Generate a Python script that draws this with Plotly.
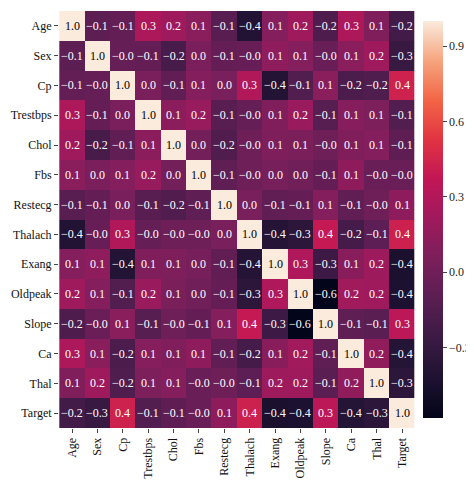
import plotly.graph_objects as go
import numpy as np

labels = ["Age","Sex","Cp","Trestbps","Chol","Fbs","Restecg","Thalach","Exang","Oldpeak","Slope","Ca","Thal","Target"]
upper = {
 ("Age","Sex"):-0.098,("Age","Cp"):-0.069,("Age","Trestbps"):0.279,("Age","Chol"):0.214,("Age","Fbs"):0.121,("Age","Restecg"):-0.116,("Age","Thalach"):-0.399,("Age","Exang"):0.097,("Age","Oldpeak"):0.210,("Age","Slope"):-0.169,("Age","Ca"):0.276,("Age","Thal"):0.068,("Age","Target"):-0.225,
 ("Sex","Cp"):-0.049,("Sex","Trestbps"):-0.057,("Sex","Chol"):-0.198,("Sex","Fbs"):0.045,("Sex","Restecg"):-0.058,("Sex","Thalach"):-0.044,("Sex","Exang"):0.142,("Sex","Oldpeak"):0.096,("Sex","Slope"):-0.031,("Sex","Ca"):0.118,("Sex","Thal"):0.210,("Sex","Target"):-0.281,
 ("Cp","Trestbps"):0.048,("Cp","Chol"):-0.077,("Cp","Fbs"):0.094,("Cp","Restecg"):0.044,("Cp","Thalach"):0.296,("Cp","Exang"):-0.394,("Cp","Oldpeak"):-0.149,("Cp","Slope"):0.120,("Cp","Ca"):-0.181,("Cp","Thal"):-0.162,("Cp","Target"):0.434,
 ("Trestbps","Chol"):0.123,("Trestbps","Fbs"):0.178,("Trestbps","Restecg"):-0.114,("Trestbps","Thalach"):-0.047,("Trestbps","Exang"):0.068,("Trestbps","Oldpeak"):0.193,("Trestbps","Slope"):-0.121,("Trestbps","Ca"):0.101,("Trestbps","Thal"):0.062,("Trestbps","Target"):-0.145,
 ("Chol","Fbs"):0.013,("Chol","Restecg"):-0.151,("Chol","Thalach"):-0.010,("Chol","Exang"):0.067,("Chol","Oldpeak"):0.054,("Chol","Slope"):-0.004,("Chol","Ca"):0.071,("Chol","Thal"):0.099,("Chol","Target"):-0.085,
 ("Fbs","Restecg"):-0.084,("Fbs","Thalach"):-0.009,("Fbs","Exang"):0.026,("Fbs","Oldpeak"):0.006,("Fbs","Slope"):-0.060,("Fbs","Ca"):0.138,("Fbs","Thal"):-0.032,("Fbs","Target"):-0.028,
 ("Restecg","Thalach"):0.044,("Restecg","Exang"):-0.071,("Restecg","Oldpeak"):-0.059,("Restecg","Slope"):0.093,("Restecg","Ca"):-0.072,("Restecg","Thal"):-0.012,("Restecg","Target"):0.137,
 ("Thalach","Exang"):-0.379,("Thalach","Oldpeak"):-0.344,("Thalach","Slope"):0.387,("Thalach","Ca"):-0.213,("Thalach","Thal"):-0.096,("Thalach","Target"):0.422,
 ("Exang","Oldpeak"):0.288,("Exang","Slope"):-0.258,("Exang","Ca"):0.116,("Exang","Thal"):0.207,("Exang","Target"):-0.437,
 ("Oldpeak","Slope"):-0.578,("Oldpeak","Ca"):0.223,("Oldpeak","Thal"):0.210,("Oldpeak","Target"):-0.431,
 ("Slope","Ca"):-0.080,("Slope","Thal"):-0.104,("Slope","Target"):0.346,
 ("Ca","Thal"):0.152,("Ca","Target"):-0.392,
 ("Thal","Target"):-0.344,
}

n = len(labels)
z = np.eye(n)
for (a, b), v in upper.items():
    i, j = labels.index(a), labels.index(b)
    z[i, j] = z[j, i] = v

def fmt(v):
    s = f"{v:.1f}"
    if s.startswith("-"):
        s = "\u2212" + s[1:]
    return s
text = [[fmt(v) for v in row] for row in z]

FONT = "Liberation Serif, Times New Roman, serif"

rocket = [[0.0,"#03051A"],[0.1,"#1E1231"],[0.2,"#3B1A44"],[0.3,"#5A1E53"],[0.4,"#7B1F5B"],
          [0.5,"#9E1A5D"],[0.6,"#C11656"],[0.7,"#E13342"],[0.8,"#F26545"],[0.9,"#F6A47E"],[1.0,"#FAEBDD"]]

fig = go.Figure(go.Heatmap(
    z=z, x=labels, y=labels, colorscale=rocket, zmin=-0.58, zmax=1.0,
    colorbar=dict(thickness=20, len=1, y=0.5, yanchor="middle", x=1.0, xpad=8, xanchor="left",
                  tickvals=[-0.3,0,0.3,0.6,0.9], ticktext=["\u22120.3","0.0","0.3","0.6","0.9"],
                  ticks="outside", ticklen=4, outlinewidth=0,
                  tickfont=dict(family=FONT, size=12, color="#222")),
))
for i in range(n):
    for j in range(n):
        fig.add_annotation(x=labels[j], y=labels[i], text=text[i][j], showarrow=False,
                           font=dict(family=FONT, size=12,
                                     color="black" if z[i][j] > 0.8 else "white"))

fig.update_layout(
    width=474, height=491, margin=dict(l=48, r=60, t=3, b=71),
    paper_bgcolor="white", plot_bgcolor="white",
    font=dict(family=FONT, size=12, color="#111"),
    xaxis=dict(tickangle=-90, ticks="outside", ticklen=4, showgrid=False, zeroline=False,
               tickfont=dict(family=FONT, size=12)),
    yaxis=dict(autorange="reversed", ticks="outside", ticklen=4, showgrid=False, zeroline=False,
               tickfont=dict(family=FONT, size=12)),
)
fig.write_html("out.html")
